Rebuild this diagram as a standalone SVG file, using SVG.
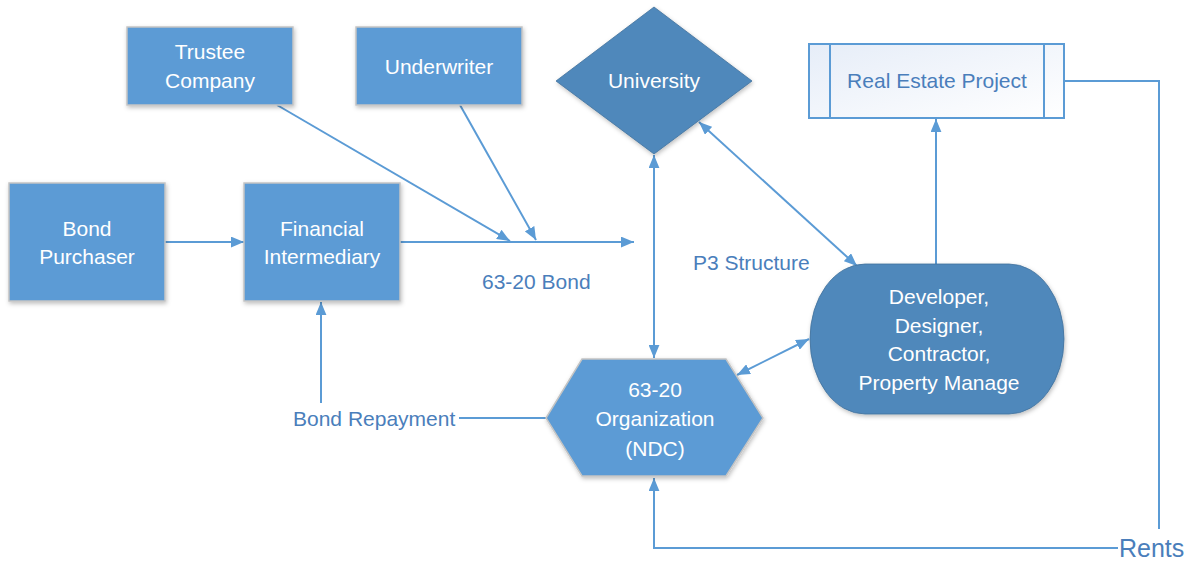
<svg xmlns="http://www.w3.org/2000/svg" width="1202" height="567" viewBox="0 0 1202 567">
<style>
.box{fill:#5b9bd5;stroke:#c4c4c4;stroke-width:1.5;filter:url(#sh)}
.dark{fill:#4f88bb;stroke:#41719c;stroke-width:0.8;filter:url(#sh)}
.t{font-family:"Liberation Sans",Arial,sans-serif;font-size:21px;fill:#ffffff;text-anchor:middle}
.lbl{font-family:"Liberation Sans",Arial,sans-serif;font-size:21px;fill:#4a7ebb}
.c{fill:none;stroke:#5b9bd5;stroke-width:2}
</style>
<defs>
<filter id="sh" x="-10%" y="-10%" width="130%" height="130%">
<feDropShadow dx="1" dy="2" stdDeviation="2" flood-color="#000" flood-opacity="0.25"/>
</filter>
<linearGradient id="rep" x1="0" y1="0" x2="1" y2="1">
<stop offset="0" stop-color="#e6edf8"/>
<stop offset="1" stop-color="#ffffff"/>
</linearGradient>
<marker id="ah" viewBox="0 0 12 10" refX="12" refY="5" markerWidth="13" markerHeight="11" markerUnits="userSpaceOnUse" orient="auto-start-reverse">
<path d="M0,0 L12,5 L0,10 z" fill="#5b9bd5"/>
</marker>
</defs>
<rect width="1202" height="567" fill="#ffffff"/>

<g id="connectors">
<line class="c" x1="165" y1="242" x2="244" y2="242" marker-end="url(#ah)"/>
<line class="c" x1="400" y1="242" x2="634" y2="242" marker-end="url(#ah)"/>
<line class="c" x1="277" y1="105" x2="510" y2="241" marker-end="url(#ah)"/>
<line class="c" x1="460" y1="105" x2="536" y2="240" marker-end="url(#ah)"/>
<line class="c" x1="654" y1="155" x2="654" y2="358" marker-start="url(#ah)" marker-end="url(#ah)"/>
<line class="c" x1="699" y1="122" x2="857" y2="266" marker-start="url(#ah)" marker-end="url(#ah)"/>
<line class="c" x1="737" y1="375" x2="809" y2="339" marker-start="url(#ah)" marker-end="url(#ah)"/>
<line class="c" x1="936" y1="264" x2="936" y2="119" marker-end="url(#ah)"/>
<polyline class="c" points="1064,81 1159,81 1159,529"/>
<polyline class="c" points="1118,548 654,548 654,478" marker-end="url(#ah)"/>
<line class="c" x1="546" y1="418" x2="459" y2="418"/>
<line class="c" x1="321" y1="403" x2="321" y2="302" marker-end="url(#ah)"/>
</g>

<g id="trustee">
<rect class="box" x="127" y="27" width="166" height="78"/>
<text class="t" x="210" y="59">Trustee</text>
<text class="t" x="210" y="88">Company</text>
</g>
<g id="underwriter">
<rect class="box" x="356" y="27" width="166" height="78"/>
<text class="t" x="439" y="74">Underwriter</text>
</g>
<g id="bond-purchaser">
<rect class="box" x="9" y="183" width="156" height="118"/>
<text class="t" x="87" y="236">Bond</text>
<text class="t" x="87" y="264">Purchaser</text>
</g>
<g id="financial-intermediary">
<rect class="box" x="244" y="183" width="156" height="118"/>
<text class="t" x="322" y="236">Financial</text>
<text class="t" x="322" y="264">Intermediary</text>
</g>
<g id="university">
<polygon class="dark" points="654,7 752,81 654,154 556,81"/>
<text class="t" x="654" y="88">University</text>
</g>
<g id="real-estate-project">
<rect x="809" y="44" width="255" height="74" fill="url(#rep)" stroke="#5b9bd5" stroke-width="2"/>
<line x1="830" y1="44" x2="830" y2="118" stroke="#5b9bd5" stroke-width="2"/>
<line x1="1044" y1="44" x2="1044" y2="118" stroke="#5b9bd5" stroke-width="2"/>
<text class="lbl" x="937" y="88" text-anchor="middle">Real Estate Project</text>
</g>
<g id="developer">
<rect class="dark" x="810" y="264" width="254" height="150" rx="55" ry="75"/>
<text class="t" x="939" y="304">Developer,</text>
<text class="t" x="939" y="333">Designer,</text>
<text class="t" x="939" y="361">Contractor,</text>
<text class="t" x="939" y="390">Property Manage</text>
</g>
<g id="ndc">
<polygon class="box" points="582,359 726,359 763,418 726,476 582,476 546,418"/>
<text class="t" x="655" y="397">63-20</text>
<text class="t" x="655" y="426">Organization</text>
<text class="t" x="655" y="456">(NDC)</text>
</g>
<g id="labels">
<text class="lbl" x="482" y="289">63-20 Bond</text>
<text class="lbl" x="693" y="270">P3 Structure</text>
<text class="lbl" x="293" y="426">Bond Repayment</text>
<text class="lbl" x="1119" y="557" style="font-size:25px">Rents</text>
</g>
</svg>
